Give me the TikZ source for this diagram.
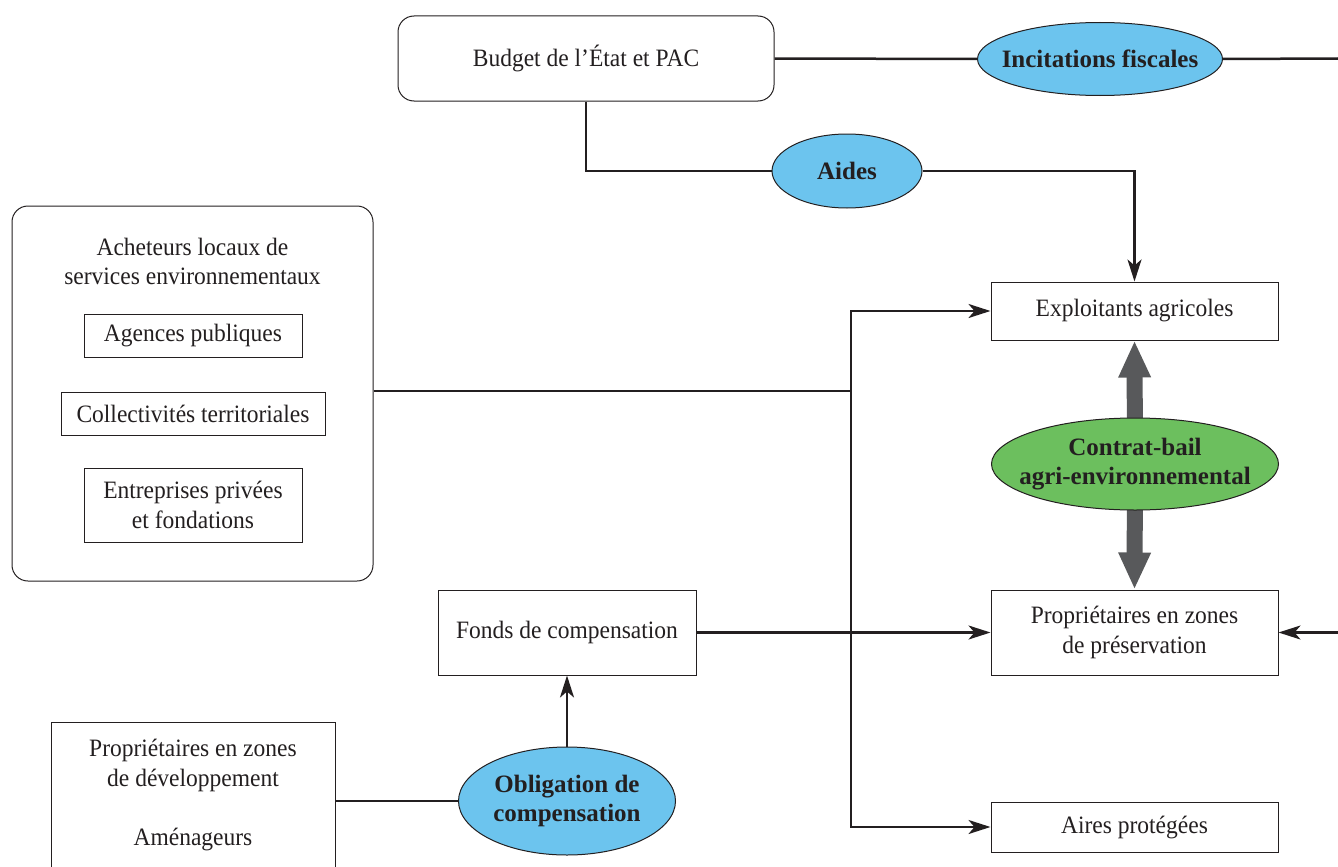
\documentclass[tikz,border=0pt]{standalone}
\usepackage{fontspec}
\setmainfont{Liberation Serif}[FakeStretch=0.94, BoldFeatures={FakeStretch=1.0}]
\usetikzlibrary{arrows.meta,shapes.geometric,backgrounds}
\definecolor{lineblk}{HTML}{231F20}
\definecolor{ovblue}{HTML}{6CC4EE}
\definecolor{ovgreen}{HTML}{6CBF5E}
\definecolor{thickgray}{HTML}{58595B}
\begin{document}
\begin{tikzpicture}[x=1pt,y=-1pt,
  font=\fontsize{25}{29.5}\selectfont,
  box/.style={draw=lineblk, line width=1pt, align=center, inner sep=0pt, text=lineblk},
  rbox/.style={box, rounded corners=16pt},
  oval/.style={ellipse, draw=lineblk, line width=1pt, inner xsep=-30pt, inner ysep=0pt, align=center, font=\fontsize{25}{29.5}\selectfont\bfseries, text=lineblk},
  txt/.style={align=center, inner sep=0pt, text=lineblk},
  conn/.style={draw=lineblk, line width=2.5pt},
  arr/.style={conn, -{Stealth[length=22pt,width=14pt,inset=6pt]}},
  thick/.style={draw=thickgray, line width=16pt, -{Triangle[length=37pt,width=30pt]}}
]
\useasboundingbox (0,0) rectangle (1338,867);
\clip (0,0) rectangle (1338,867);

% nodes
\node[rbox, minimum width=376, minimum height=85] (budget) at (586,58.5) {Budget de l’État et PAC};
\node[oval, fill=ovblue, minimum width=245, minimum height=73] (inc) at (1100,59) {Incitations fiscales};
\node[oval, fill=ovblue, minimum width=150, minimum height=74] (aides) at (847,171) {Aides};
\node[box, minimum width=287, minimum height=58] (expl) at (1134.5,311) {Exploitants agricoles};

\node[rbox, minimum width=361, minimum height=375] (ach) at (192.5,393.5) {};
\node[txt] (acht) at (192.5,261.5) {Acheteurs locaux de\\services environnementaux};
\node[box, minimum width=218, minimum height=43] (agences) at (193,335.5) {Agences publiques};
\node[box, minimum width=264, minimum height=43] (coll) at (193,413.5) {Collectivités territoriales};
\node[box, minimum width=218, minimum height=74] (entr) at (193,505) {Entreprises privées\\et fondations};

\node[oval, fill=ovgreen, minimum width=287, minimum height=92] (cb) at (1135,464) {Contrat-bail\\agri-environnemental};
\node[box, minimum width=287, minimum height=85] (pres) at (1134.5,632.5) {Propriétaires en zones\\de préservation};
\node[box, minimum width=258, minimum height=85] (fonds) at (567,632.5) {Fonds de compensation};
\node[box, minimum width=284, minimum height=170, anchor=north] (dev) at (193,722) {};
\node[txt] (devt) at (193,795) {Propriétaires en zones\\de développement\\\mbox{}\\Aménageurs};
\node[oval, fill=ovblue, minimum width=217, minimum height=108] (obl) at (567,801) {Obligation de\\compensation};
\node[box, minimum width=287, minimum height=50] (aires) at (1134.5,827) {Aires protégées};

% free ends and junction
\coordinate (rtop) at (1338,58.5);
\coordinate (rin) at (1338,632.5);
\coordinate (vx) at (851,391);

% connectors
\draw[conn] (budget.east) -- (inc.west);
\draw[conn] (inc.east) -- (rtop);
\draw[conn] (budget.south) |- (aides.west);
\draw[arr] (aides.east) -| (expl.north);
\draw[conn] (ach.east |- vx) -- (vx);
\draw[arr] (vx) |- (expl.west);
\draw[arr] (vx) |- (aires.west);
\draw[arr] (fonds.east) -- (pres.west);
\draw[arr] (rin) -- (pres.east);
\draw[arr] (obl.north) -- (fonds.south);
\draw[conn] (dev.east |- obl.west) -- (obl.west);

\begin{scope}[on background layer]
\draw[thick] (cb.center) -- (expl.south);
\draw[thick] (cb.center) -- (pres.north);
\end{scope}
\end{tikzpicture}
\end{document}
